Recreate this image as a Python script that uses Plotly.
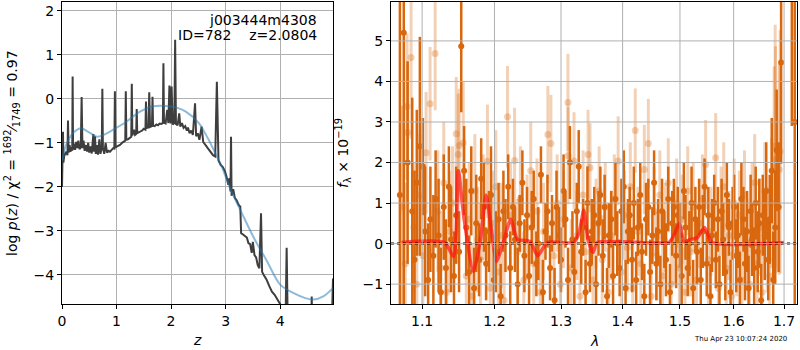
import plotly.graph_objects as go

# ---------------- Left panel: log p(z) ----------------
z_pdf = [0.000, 0.010, 0.018, 0.026, 0.040, 0.060, 0.080, 0.100, 0.110, 0.122,
         0.140, 0.155, 0.175, 0.188, 0.195, 0.203, 0.220, 0.240, 0.260, 0.280,
         0.300, 0.320, 0.345, 0.360, 0.375, 0.395, 0.415, 0.440, 0.460, 0.480,
         0.500, 0.520, 0.545, 0.565, 0.575, 0.585, 0.605, 0.620, 0.640, 0.660,
         0.685, 0.705, 0.730, 0.740, 0.750, 0.775, 0.800, 0.825, 0.850, 0.880,
         0.910, 0.940, 0.960, 0.970, 0.980, 1.010, 1.040, 1.070, 1.100, 1.130,
         1.160, 1.170, 1.180, 1.210, 1.240, 1.270, 1.280, 1.290, 1.320, 1.340,
         1.360, 1.370, 1.380, 1.410, 1.440, 1.470, 1.500, 1.530, 1.540, 1.550,
         1.585, 1.600, 1.615, 1.650, 1.660, 1.670, 1.700, 1.730, 1.760, 1.790,
         1.820, 1.850, 1.860, 1.870, 1.900, 1.930, 1.950, 1.970, 1.990, 2.010,
         2.030, 2.060, 2.075, 2.090, 2.120, 2.150, 2.170, 2.200, 2.230, 2.260,
         2.290, 2.310, 2.340, 2.370, 2.400, 2.440, 2.460, 2.490, 2.520, 2.560,
         2.590, 2.620, 2.650, 2.690, 2.730, 2.770, 2.810, 2.840, 2.870, 2.910,
         2.950, 2.990, 3.020, 3.050, 3.070, 3.090, 3.100, 3.110, 3.140, 3.170,
         3.200, 3.240, 3.270, 3.285, 3.320, 3.360, 3.390, 3.420, 3.450, 3.480,
         3.500, 3.530, 3.560, 3.590, 3.620, 3.650, 3.670, 3.700, 3.750, 3.800,
         3.850, 3.900, 3.950, 4.000, 4.050, 4.100, 4.120, 4.140, 4.300, 4.500,
         4.570, 4.580, 4.590, 4.800, 4.950, 4.970]
logp_pdf = [-2.00, -1.55, -0.75, -1.45, -1.30, -1.25, -1.20, -1.28, -0.49, -1.22,
            -1.05, -1.20, -1.10, -1.18, 0.51, -1.15, -1.02, -1.16, -0.98, -1.12,
            -0.95, -1.14, -1.10, 0.04, -1.12, -0.95, -1.18, -1.05, -1.20, -1.00,
            -1.22, -1.08, -1.24, -0.95, -0.80, -1.20, -0.85, -1.25, -1.05, -1.27,
            -0.92, -1.25, -1.10, 0.23, -1.12, -1.25, -1.00, -1.22, -1.18, -1.20,
            -1.15, -1.12, -1.13, 0.17, -1.10, -1.08, -1.05, -1.04, -1.00, -0.98,
            -0.95, 0.17, -0.93, -0.92, -0.88, -0.86, 0.34, -0.83, -0.70, -0.82,
            -0.80, -0.23, -0.78, -0.76, -0.73, -0.72, -0.68, -0.70, -0.06, -0.66,
            -0.65, 0.15, -0.64, -0.62, 0.05, -0.61, -0.62, -0.58, -0.60, -0.56,
            -0.57, -0.55, 0.81, -0.54, -0.56, -0.25, -0.55, 0.30, -0.56, 0.28,
            -0.58, -0.55, 1.34, -0.57, -0.60, -0.33, -0.63, -0.55, -0.66, -0.62,
            -0.72, -0.65, -0.78, -0.72, -0.82, -0.10, -0.85, -0.78, -0.93, -0.63,
            -0.98, -1.02, -1.08, -1.15, -1.23, -1.28, -1.31, 0.39, -1.40, -1.50,
            -1.55, -1.65, -1.78, -1.95, -1.80, -2.10, -0.86, -2.20, -2.05, -2.25,
            -2.30, -2.41, -2.45, -3.05, -3.08, -3.12, -3.15, -3.28, -3.30, -3.50,
            -3.25, -3.55, -3.60, -3.78, -3.85, -2.60, -3.93, -4.00, -4.10, -4.25,
            -4.38, -4.45, -4.55, -4.66, -4.80, -5.00, -3.38, -5.10, -5.40, -5.50,
            -5.30, -4.49, -5.30, -5.40, -5.00, -4.08]

z_chi2 = [0.00, 0.02, 0.06, 0.12, 0.20, 0.28, 0.36, 0.44, 0.52, 0.64, 0.76, 0.94,
          1.18, 1.43, 1.67, 1.91, 2.10, 2.27, 2.51, 2.69, 2.81, 2.93, 3.08, 3.30,
          3.52, 3.76, 4.00, 4.24, 4.45, 4.61, 4.80, 4.97]
logp_chi2 = [-1.40, -1.31, -1.10, -0.93, -0.78, -0.70, -0.67, -0.72, -0.78, -0.86,
             -0.82, -0.70, -0.52, -0.29, -0.17, -0.16, -0.20, -0.29, -0.55, -0.93,
             -1.23, -1.54, -2.02, -2.60, -3.16, -3.69, -4.22, -4.41, -4.52, -4.56,
             -4.48, -4.30]

left_xticks = [0, 1, 2, 3, 4]
left_yticks = [-4, -3, -2, -1, 0, 1, 2]

# ---------------- Right panel: spectrum ----------------
wave_dark = [1.071, 1.076, 1.081, 1.087, 1.090, 1.093, 1.097, 1.101, 1.104, 1.108,
             1.111, 1.115, 1.118, 1.122, 1.125, 1.129, 1.132, 1.136, 1.139, 1.143,
             1.146, 1.150, 1.153, 1.157, 1.160, 1.164, 1.167, 1.171, 1.174, 1.178,
             1.181, 1.185, 1.188, 1.192, 1.195, 1.199, 1.202, 1.206, 1.209, 1.213,
             1.216, 1.220, 1.223, 1.227, 1.230, 1.234, 1.237, 1.241, 1.244, 1.248,
             1.251, 1.255, 1.258, 1.262, 1.265, 1.269, 1.272, 1.276, 1.279, 1.283,
             1.286, 1.290, 1.293, 1.297, 1.300, 1.304, 1.307, 1.311, 1.314, 1.318,
             1.321, 1.325, 1.328, 1.332, 1.335, 1.339, 1.342, 1.346, 1.349, 1.353,
             1.356, 1.360, 1.363, 1.367, 1.370, 1.374, 1.377, 1.381, 1.384, 1.388,
             1.391, 1.395, 1.398, 1.402, 1.405, 1.409, 1.412, 1.416, 1.419, 1.423,
             1.426, 1.430, 1.433, 1.437, 1.440, 1.444, 1.447, 1.451, 1.454, 1.458,
             1.461, 1.465, 1.468, 1.472, 1.475, 1.479, 1.482, 1.486, 1.489, 1.493,
             1.496, 1.500, 1.503, 1.507, 1.510, 1.514, 1.517, 1.521, 1.524, 1.528,
             1.531, 1.535, 1.538, 1.542, 1.545, 1.549, 1.552, 1.556, 1.559, 1.563,
             1.566, 1.570, 1.573, 1.577, 1.580, 1.584, 1.587, 1.591, 1.594, 1.598,
             1.601, 1.605, 1.608, 1.612, 1.615, 1.619, 1.622, 1.626, 1.629, 1.633,
             1.636, 1.640, 1.643, 1.647, 1.650, 1.654, 1.657, 1.661, 1.664, 1.668,
             1.671, 1.675, 1.678, 1.682, 1.685, 1.689, 1.694, 1.716, 1.722]
flux_dark = [1.2, 5.2, 2.0, 0.8, -0.4, 1.5, 2.4, 1.9, 0.3, -0.9,
             0.6, -0.3, 1.1, 0.2, -1.2, 0.9, -0.6, 1.4, 0.1, -0.8,
             0.7, -0.2, 4.87, 1.8, 0.4, -0.7, 1.3, -1.1, 0.5, -0.4,
             1.6, 0.9, -0.5, 0.3, 1.2, -0.9, -0.2, 0.6, -1.3, 0.8,
             0.2, 1.4, -0.6, 0.9, 0.1, -1.0, 0.5, 1.5, -0.3, 0.7,
             -0.8, 0.4, 1.1, -0.5, 0.0, 1.7, -1.2, 0.3, 0.8, -0.6,
             0.5, -1.4, 0.9, 0.2, -0.4, 1.3, 0.6, -0.9, 2.0, 0.1,
             -0.7, 0.8, 1.9, -0.2, 0.4, -1.2, 1.0, -0.5, 0.3, 0.7,
             -1.0, 0.5, 1.2, -0.3, 0.9, -1.3, 0.2, 0.6, -0.8, 1.1,
             0.0, -0.6, 0.8, 1.4, -1.1, 0.3, 0.7, -0.4, 1.0, -0.9,
             0.4, 1.2, -0.2, -1.3, 0.6, 0.9, -0.7, 0.2, 1.5, -0.5,
             0.3, -1.0, 0.8, 0.1, -0.4, 1.1, -1.2, 0.5, 0.9, -0.3,
             0.7, 0.2, -0.8, 1.3, 0.4, -0.6, 0.0, 1.0, -1.1, 0.6,
             -0.2, 0.9, -0.9, 0.3, 1.4, -0.5, 0.7, -1.3, 0.2, 1.0,
             -0.4, 0.6, -1.0, 0.8, 0.1, -0.7, 1.2, 0.4, -1.2, 0.5,
             0.9, -0.3, 0.2, -0.9, 1.1, 0.6, -0.5, 0.3, -1.1, 0.8,
             0.1, -0.6, 1.0, -0.2, 0.5, -1.4, 0.7, 0.2, 1.3, -0.4,
             0.6, 1.8, -0.9, 0.4, 2.3, 0.9, 4.47, 8.0, 3.0]
err_dark = [8.0, 8.0, 2.5, 2.8, 2.2, 1.8, 2.7, 1.2, 1.6, 1.4,
            1.3, 1.5, 1.2, 1.4, 1.1, 1.3, 1.2, 1.0, 1.3, 1.1,
            1.2, 1.0, 1.63, 1.1, 1.2, 0.9, 1.1, 1.0, 1.2, 0.9,
            1.0, 1.1, 0.9, 1.0, 1.2, 0.8, 1.0, 0.9, 0.8, 1.0,
            0.9, 0.8, 0.9, 0.7, 0.8, 0.9, 0.7, 0.8, 0.9, 0.7,
            0.8, 0.9, 0.7, 0.8, 0.9, 0.7, 0.8, 0.7, 0.9, 0.8,
            0.7, 0.8, 0.9, 0.7, 0.8, 0.9, 0.7, 0.8, 0.9, 0.7,
            0.8, 0.7, 0.9, 0.8, 0.7, 0.8, 0.9, 0.7, 0.8, 0.7,
            0.7, 0.8, 0.7, 0.9, 0.8, 0.7, 0.8, 0.7, 0.8, 0.9,
            0.8, 0.7, 0.8, 0.9, 0.7, 0.8, 0.7, 0.8, 0.9, 0.7,
            0.7, 0.8, 0.7, 0.8, 0.9, 0.7, 0.8, 0.7, 0.8, 0.9,
            0.8, 0.7, 0.8, 0.7, 0.9, 0.8, 0.7, 0.8, 0.7, 0.8,
            0.7, 0.8, 0.9, 0.7, 0.8, 0.7, 0.8, 0.9, 0.7, 0.8,
            0.8, 0.7, 0.8, 0.9, 0.7, 0.8, 0.7, 0.8, 0.9, 0.7,
            0.7, 0.8, 0.7, 0.8, 0.9, 0.7, 0.8, 0.7, 0.8, 0.9,
            0.8, 0.9, 0.8, 0.7, 0.9, 0.8, 0.9, 1.0, 0.8, 0.9,
            0.9, 1.0, 0.9, 1.0, 1.1, 0.9, 1.0, 1.1, 1.2, 1.0,
            1.1, 1.3, 1.2, 1.4, 1.5, 1.6, 2.5, 5.1, 10.0]

wave_light = [1.074, 1.078, 1.0802, 1.0808, 1.0855, 1.089, 1.093, 1.097, 1.101, 1.1053,
              1.1106, 1.1174, 1.121, 1.125, 1.129, 1.133, 1.137, 1.141, 1.1461, 1.1488,
              1.1502, 1.1558, 1.160, 1.164, 1.168, 1.172, 1.176, 1.180, 1.184, 1.1899,
              1.194, 1.198, 1.202, 1.206, 1.210, 1.214, 1.2190, 1.2236, 1.2294, 1.234,
              1.238, 1.243, 1.248, 1.2535, 1.258, 1.263, 1.268, 1.273, 1.2796, 1.2843,
              1.289, 1.294, 1.299, 1.304, 1.3109, 1.3112, 1.316, 1.3205, 1.325, 1.330,
              1.335, 1.339, 1.3430, 1.3462, 1.351, 1.356, 1.361, 1.366, 1.371, 1.376,
              1.381, 1.386, 1.3925, 1.398, 1.403, 1.408, 1.413, 1.417, 1.4214, 1.426,
              1.431, 1.4370, 1.4440, 1.449, 1.454, 1.459, 1.464, 1.469, 1.474, 1.479,
              1.484, 1.489, 1.494, 1.499, 1.504, 1.509, 1.514, 1.519, 1.524, 1.530,
              1.535, 1.541, 1.5470, 1.552, 1.557, 1.5658, 1.571, 1.576, 1.581, 1.586,
              1.591, 1.596, 1.601, 1.606, 1.611, 1.616, 1.621, 1.626, 1.631, 1.636,
              1.641, 1.646, 1.651, 1.656, 1.661, 1.666, 1.671, 1.675, 1.6799, 1.6820,
              1.6825, 1.6901, 1.6921]
flux_light = [0.9, -0.5, 3.38, 2.74, 4.59, 0.4, -1.0, 1.2, -0.3, 2.24,
              3.45, 4.69, 0.8, -0.6, 1.5, -1.2, 0.3, 1.0, 2.71, 2.2,
              2.42, 2.49, -0.8, 0.6, -1.3, 1.3, 0.1, -0.4, 0.9, 2.03,
              -1.1, 0.5, 1.4, -0.7, 0.2, -1.4, 3.13, 0.7, 2.05, -0.2,
              1.1, -0.9, 0.4, 1.8, -0.5, 0.8, -1.2, 0.3, 2.69, 2.47,
              -0.3, 1.0, -1.0, 0.6, 3.48, 2.17, -0.6, 2.04, 0.2, -1.3,
              1.2, -0.2, 2.2, 1.87, -0.9, 0.5, 1.3, -0.4, 0.9, -1.2,
              0.2, 1.1, 2.04, -0.7, 0.7, -0.1, 1.4, -1.1, 2.79, 0.3,
              -0.5, 1.83, 2.47, -1.3, 0.8, -0.3, 1.2, -0.8, 0.4, 1.5,
              -1.0, 0.1, 1.0, -0.6, 0.6, -1.2, 1.3, -0.2, 0.9, -0.9,
              0.5, 1.1, 1.95, -0.4, 0.3, 2.12, -1.1, 0.8, 1.4, -0.6,
              0.2, -1.3, 1.0, -0.2, 0.7, -0.9, 1.2, 0.0, -1.0, 0.9,
              1.5, -0.5, 0.4, -1.2, 1.3, 0.1, -0.8, 1.0, 1.87, 2.4,
              2.07, 1.83, 2.27]
err_light = [2.5, 2.0, 1.8, 1.7, 2.0, 1.6, 1.5, 1.5, 1.5, 1.5,
             1.4, 1.4, 1.5, 1.4, 1.5, 1.4, 1.5, 1.4, 1.4, 1.5,
             1.4, 1.5, 1.4, 1.4, 1.3, 1.4, 1.3, 1.4, 1.3, 1.4,
             1.3, 1.3, 1.4, 1.3, 1.3, 1.3, 1.25, 1.3, 1.3, 1.3,
             1.3, 1.2, 1.3, 1.2, 1.2, 1.3, 1.2, 1.2, 1.2, 1.2,
             1.2, 1.2, 1.2, 1.2, 1.2, 1.2, 1.2, 1.2, 1.1, 1.1,
             1.1, 1.1, 1.1, 1.1, 1.1, 1.1, 1.1, 1.1, 1.1, 1.1,
             1.1, 1.1, 1.1, 1.1, 1.1, 1.1, 1.1, 1.1, 1.04, 1.1,
             1.1, 1.1, 1.1, 1.1, 1.1, 1.1, 1.1, 1.1, 1.1, 1.1,
             1.1, 1.1, 1.1, 1.1, 1.1, 1.1, 1.1, 1.1, 1.1, 1.1,
             1.1, 1.1, 1.1, 1.1, 1.1, 1.1, 1.1, 1.1, 1.1, 1.1,
             1.1, 1.1, 1.1, 1.1, 1.1, 1.1, 1.1, 1.1, 1.1, 1.1,
             1.2, 1.2, 1.2, 1.2, 1.2, 1.3, 1.4, 1.6, 2.5, 3.0,
             2.8, 2.6, 3.0]

wave_model = [1.073, 1.130, 1.1426, 1.149, 1.157, 1.170, 1.180, 1.188, 1.196, 1.203,
              1.214, 1.2236, 1.2337, 1.245, 1.253, 1.264, 1.279, 1.320, 1.329, 1.336,
              1.343, 1.351, 1.358, 1.480, 1.489, 1.499, 1.507, 1.5193, 1.532, 1.545,
              1.559, 1.700]
flux_model = [0.03, 0.03, -0.32, 1.80, 0.60, -0.69, 0.10, 1.20, 0.30, -0.44,
              0.10, 0.60, 0.10, 0.08, 0.05, -0.30, 0.03, 0.03, 0.30, 0.82,
              0.10, -0.22, 0.03, 0.03, 0.20, 0.50, 0.05, 0.10, 0.15, 0.40,
              0.03, 0.03]

right_xticks = [1.1, 1.2, 1.3, 1.4, 1.5, 1.6, 1.7]
right_yticks = [-1, 0, 1, 2, 3, 4, 5]
right_xrange = [1.0596, 1.7267]
right_yrange = [-1.49, 5.96]

n = min(len(wave_dark), len(flux_dark), len(err_dark))
wave_dark, flux_dark, err_dark = wave_dark[:n], flux_dark[:n], err_dark[:n]
m = min(len(wave_light), len(flux_light), len(err_light))
wave_light, flux_light, err_light = wave_light[:m], flux_light[:m], err_light[:m]

DARK = "rgb(216,103,14)"
LIGHT = "rgba(216,103,14,0.30)"
FONT = "DejaVu Sans"
FS = 14

fig = go.Figure()

fig.add_trace(go.Scatter(x=z_pdf, y=logp_pdf, mode="lines",
                         line=dict(color="rgb(62,62,62)", width=2),
                         xaxis="x", yaxis="y", showlegend=False))
fig.add_trace(go.Scatter(x=z_chi2, y=logp_chi2, mode="lines",
                         line=dict(color="rgba(31,119,180,0.5)", width=2,
                                   shape="spline", smoothing=0.8),
                         xaxis="x", yaxis="y", showlegend=False))

fig.add_trace(go.Scatter(x=wave_light, y=flux_light, mode="markers",
                         marker=dict(color=LIGHT, size=7),
                         error_y=dict(type="data", array=err_light, thickness=3,
                                      width=0, color=LIGHT),
                         xaxis="x2", yaxis="y2", showlegend=False))
fig.add_trace(go.Scatter(x=wave_dark, y=flux_dark, mode="markers",
                         marker=dict(color=DARK, size=6),
                         error_y=dict(type="data", array=err_dark, thickness=2.5,
                                      width=0, color=DARK),
                         xaxis="x2", yaxis="y2", showlegend=False))
fig.add_trace(go.Scatter(x=wave_model, y=flux_model, mode="lines",
                         line=dict(color="rgba(255,20,20,0.7)", width=3.5,
                                   shape="spline", smoothing=0.6),
                         xaxis="x2", yaxis="y2", showlegend=False))
fig.add_trace(go.Scatter(x=right_xrange, y=[0, 0], mode="lines",
                         line=dict(color="black", width=2, dash="dot"),
                         xaxis="x2", yaxis="y2", showlegend=False))

GRID = "#b0b0b0"
shapes = []
for v in right_xticks:
    shapes.append(dict(type="line", xref="x2", yref="y2 domain", x0=v, x1=v, y0=0, y1=1,
                       line=dict(color=GRID, width=1), layer="above"))
for v in right_yticks:
    shapes.append(dict(type="line", xref="x2 domain", yref="y2", x0=0, x1=1, y0=v, y1=v,
                       line=dict(color=GRID, width=1), layer="above"))

axis_common = dict(showline=True, mirror=True, linecolor="black", linewidth=1,
                   ticks="outside", ticklen=4, tickwidth=1, tickcolor="black",
                   zeroline=False, tickfont=dict(family=FONT, size=FS, color="black"))

W, L, R, T, B, H = 800, 62, 3, 2, 46, 350
pw, ph = W - L - R, H - T - B


def px(xp):
    return (xp - L) / pw


def py(yp):
    return (H - B - yp) / ph


fig.update_layout(
    width=W, height=H, margin=dict(l=L, r=R, t=T, b=B),
    paper_bgcolor="white", plot_bgcolor="white",
    font=dict(family=FONT, size=FS, color="black"),
    xaxis=dict(domain=[0, px(333)], range=[0, 4.97], tickvals=left_xticks,
               showgrid=True, gridcolor=GRID, gridwidth=1, anchor="y", **axis_common),
    yaxis=dict(domain=[0, 1], range=[-4.66, 2.2], tickvals=left_yticks,
               showgrid=True, gridcolor=GRID, gridwidth=1, anchor="x", **axis_common),
    xaxis2=dict(domain=[px(391), 1], type="log",
                range=[0.025141, 0.237214],
                tickvals=right_xticks, ticktext=[f"{v:.1f}" for v in right_xticks],
                showgrid=False, anchor="y2", **axis_common),
    yaxis2=dict(domain=[0, 1], range=right_yrange, tickvals=right_yticks,
                showgrid=False, anchor="x2", **axis_common),
    shapes=shapes,
    annotations=[
        dict(text="j003444m4308", xref="paper", yref="paper", x=px(319), y=py(20),
             xanchor="right", yanchor="middle", showarrow=False,
             font=dict(family=FONT, size=FS)),
        dict(text="ID=782\u00a0\u00a0\u00a0\u00a0z=2.0804", xref="paper", yref="paper",
             x=px(319), y=py(35), xanchor="right", yanchor="middle", showarrow=False,
             font=dict(family=FONT, size=FS)),
        dict(text="log <i>p</i>(<i>z</i>) / χ<sup>2</sup> = <sup>1692</sup>⁄<sub>1749</sub> = 0.97",
             xref="paper", yref="paper", x=px(12), y=0.5, textangle=-90,
             xanchor="center", yanchor="middle", showarrow=False,
             font=dict(family=FONT, size=FS)),
        dict(text="<i>f</i><sub>λ</sub> × 10<sup>−19</sup>",
             xref="paper", yref="paper", x=px(343), y=0.5, textangle=-90,
             xanchor="center", yanchor="middle", showarrow=False,
             font=dict(family=FONT, size=FS)),
        dict(text="<i>z</i>", xref="paper", yref="paper", x=px(197), y=py(340),
             xanchor="center", yanchor="middle", showarrow=False,
             font=dict(family=FONT, size=FS)),
        dict(text="<i>λ</i>", xref="paper", yref="paper", x=px(594), y=py(341),
             xanchor="center", yanchor="middle", showarrow=False,
             font=dict(family=FONT, size=FS)),
        dict(text="Thu Apr 23 10:07:24 2020", xref="paper", yref="paper",
             x=px(789), y=py(339), xanchor="right", yanchor="middle", showarrow=False,
             font=dict(family=FONT, size=7)),
    ],
)

fig.write_html("out.html",
               config={"displayModeBar": False},
               post_script="document.body.style.margin='0px';"
                           "document.body.style.padding='0px';"
                           "document.body.style.overflow='hidden';")
